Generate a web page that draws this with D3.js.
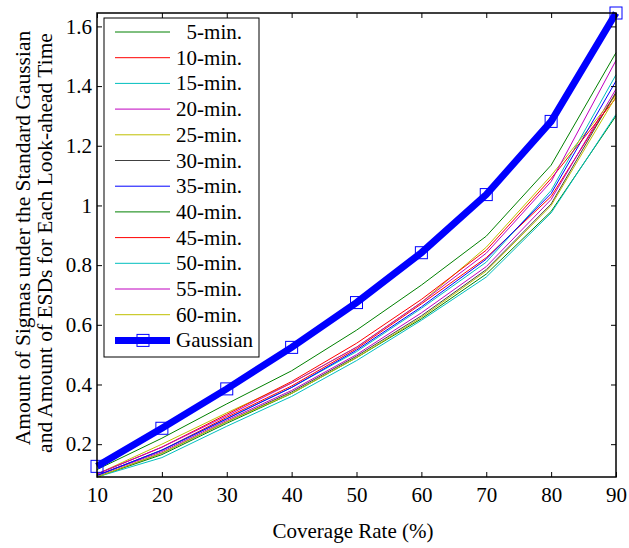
<!DOCTYPE html>
<html lang="en">
<head>
<meta charset="utf-8">
<title>Sigmas vs coverage rate</title>
<script src="https://cdn.jsdelivr.net/npm/d3@7"></script>
<style>
  body { margin: 0; background: #fff; }
  text { font-family: "Liberation Serif", "Times New Roman", serif; fill: #000; }
</style>
</head>
<body>
<script>
// coverage rates (%)
var coverage = [10, 20, 30, 40, 50, 60, 70, 80, 90];

// series labels and values
var labels = ["5-min.", "10-min.", "15-min.", "20-min.", "25-min.", "30-min.",
              "35-min.", "40-min.", "45-min.", "50-min.", "55-min.", "60-min."];
var colors = ["#008000", "#ff0000", "#00bfbf", "#bf00bf", "#bfbf00", "#404040",
              "#0000ff", "#008000", "#ff0000", "#00bfbf", "#bf00bf", "#bfbf00"];

var esd5  = [0.090, 0.165, 0.270, 0.370, 0.490, 0.620, 0.770, 0.980, 1.300];
var esd10 = [0.095, 0.180, 0.290, 0.395, 0.520, 0.670, 0.825, 1.030, 1.375];
var esd15 = [0.095, 0.180, 0.285, 0.390, 0.510, 0.655, 0.810, 1.050, 1.438];
var esd20 = [0.095, 0.175, 0.280, 0.380, 0.500, 0.640, 0.795, 1.020, 1.390];
var esd25 = [0.100, 0.200, 0.305, 0.405, 0.525, 0.675, 0.860, 1.100, 1.370];
var esd30 = [0.090, 0.170, 0.275, 0.375, 0.495, 0.630, 0.785, 1.005, 1.380];
var esd35 = [0.095, 0.180, 0.285, 0.390, 0.515, 0.660, 0.820, 1.040, 1.417];
var esd40 = [0.115, 0.220, 0.335, 0.446, 0.582, 0.733, 0.897, 1.135, 1.512];
var esd45 = [0.100, 0.190, 0.300, 0.410, 0.538, 0.685, 0.850, 1.090, 1.360];
var esd50 = [0.090, 0.155, 0.260, 0.360, 0.480, 0.615, 0.760, 0.975, 1.305];
var esd55 = [0.100, 0.190, 0.295, 0.405, 0.525, 0.675, 0.840, 1.080, 1.486];
var esd60 = [0.090, 0.170, 0.275, 0.370, 0.490, 0.625, 0.780, 1.000, 1.365];
var gaussian = [0.1257, 0.2533, 0.3853, 0.5244, 0.6745, 0.8416, 1.0364, 1.2816, 1.6449];

var series = [esd5, esd10, esd15, esd20, esd25, esd30, esd35, esd40, esd45, esd50, esd55, esd60];

var xTicks = [10, 20, 30, 40, 50, 60, 70, 80, 90];
var yTicks = [0.2, 0.4, 0.6, 0.8, 1, 1.2, 1.4, 1.6];

var w = 629, h = 548;
var pLeft = 97, pRight = 616, pTop = 13, pBottom = 477;

var x = d3.scaleLinear().domain([10, 90]).range([pLeft, pRight]);
var y = d3.scaleLinear().domain([0.09, 1.6449]).range([pBottom, pTop]);

var svg = d3.select("body").append("svg")
    .attr("width", w)
    .attr("height", h);

var line = d3.line()
    .x(function(d, i) { return x(coverage[i]); })
    .y(function(d) { return y(d); });

// ESD lines
svg.selectAll("path.esd")
    .data(series)
    .enter()
    .append("path")
    .attr("class", "esd")
    .attr("fill", "none")
    .attr("stroke", function(d, i) { return colors[i]; })
    .attr("stroke-width", 1)
    .attr("d", line);

// Gaussian line and markers
svg.append("path")
    .attr("fill", "none")
    .attr("stroke", "#0000ff")
    .attr("stroke-width", 7)
    .attr("d", line(gaussian));

svg.selectAll("rect.mk")
    .data(gaussian)
    .enter()
    .append("rect")
    .attr("class", "mk")
    .attr("x", function(d, i) { return x(coverage[i]) - 6; })
    .attr("y", function(d) { return y(d) - 6; })
    .attr("width", 12)
    .attr("height", 12)
    .attr("fill", "none")
    .attr("stroke", "#0000ff")
    .attr("stroke-width", 1);

// axes, ticks inward and mirrored
svg.append("g").attr("transform", "translate(0," + pBottom + ")")
    .call(d3.axisBottom(x).tickValues(xTicks).tickSizeInner(-5).tickSizeOuter(0).tickPadding(10));
svg.append("g").attr("transform", "translate(0," + pTop + ")")
    .call(d3.axisTop(x).tickValues(xTicks).tickSizeInner(-5).tickSizeOuter(0).tickFormat(""));
svg.append("g").attr("transform", "translate(" + pLeft + ",0)")
    .call(d3.axisLeft(y).tickValues(yTicks).tickSizeInner(-5).tickSizeOuter(0).tickPadding(5)
          .tickFormat(function(d) { return String(d); }));
svg.append("g").attr("transform", "translate(" + pRight + ",0)")
    .call(d3.axisRight(y).tickValues(yTicks).tickSizeInner(-5).tickSizeOuter(0).tickFormat(""));

svg.selectAll(".domain").remove();
svg.selectAll(".tick line").attr("stroke", "#000").attr("stroke-width", 1);
svg.selectAll(".tick text")
    .style("font-family", '"Liberation Serif", serif')
    .style("font-size", "21px");

svg.append("rect")
    .attr("x", pLeft).attr("y", pTop)
    .attr("width", pRight - pLeft).attr("height", pBottom - pTop)
    .attr("fill", "none").attr("stroke", "#000").attr("stroke-width", 1.5);

// axis labels
svg.append("text")
    .attr("x", 353)
    .attr("y", 538)
    .attr("text-anchor", "middle")
    .style("font-size", "21px")
    .text("Coverage Rate (%)");

svg.append("text")
    .attr("transform", "translate(30,238) rotate(-90)")
    .attr("text-anchor", "middle")
    .style("font-size", "21.5px")
    .text("Amount of Sigmas under the Standard Gaussian");

svg.append("text")
    .attr("transform", "translate(52,243) rotate(-90)")
    .attr("text-anchor", "middle")
    .style("font-size", "21.5px")
    .text("and Amount of ESDs for Each Look-ahead Time");

// legend
var legend = svg.append("g");
legend.append("rect")
    .attr("x", 104).attr("y", 18)
    .attr("width", 155).attr("height", 339)
    .attr("fill", "#fff").attr("stroke", "#000").attr("stroke-width", 1);

var rowH = 25.7;
labels.forEach(function(lab, i) {
    var ry = 32 + i * rowH;
    legend.append("line")
        .attr("x1", 115).attr("x2", 170)
        .attr("y1", ry).attr("y2", ry)
        .attr("stroke", colors[i]).attr("stroke-width", 1);
    legend.append("text")
        .attr("x", 242).attr("y", ry + 7)
        .attr("text-anchor", "end")
        .style("font-size", "21px")
        .text(lab);
});

var gy = 32 + 12 * rowH;
legend.append("line")
    .attr("x1", 115).attr("x2", 170)
    .attr("y1", gy).attr("y2", gy)
    .attr("stroke", "#0000ff").attr("stroke-width", 7);
legend.append("rect")
    .attr("x", 137).attr("y", gy - 6)
    .attr("width", 12).attr("height", 12)
    .attr("fill", "none").attr("stroke", "#0000ff").attr("stroke-width", 1);
legend.append("text")
    .attr("x", 176).attr("y", gy + 7)
    .style("font-size", "21px")
    .text("Gaussian");
</script>
</body>
</html>
